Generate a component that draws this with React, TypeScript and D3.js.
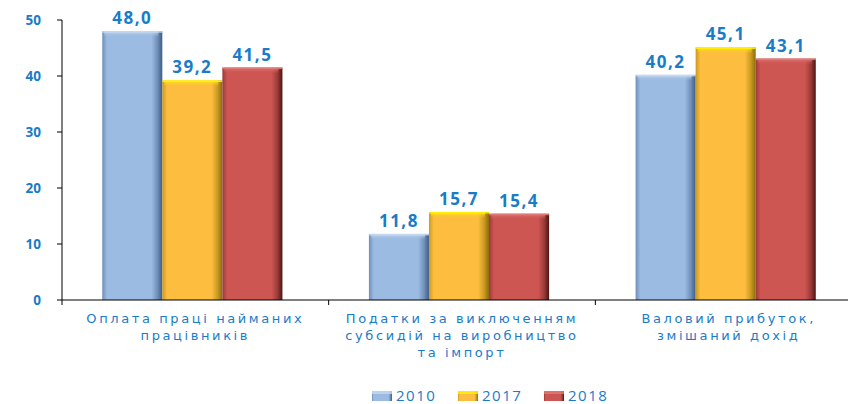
import { useMemo } from "react";
import * as d3 from "d3";

const categories = [
  ["Оплата праці найманих", "працівників"],
  ["Податки за виключенням", "субсидій на виробництво", "та імпорт"],
  ["Валовий прибуток,", "змішаний дохід"],
];
const seriesNames = ["2010", "2017", "2018"];
const values2010 = [48.0, 11.8, 40.2];
const values2017 = [39.2, 15.7, 45.1];
const values2018 = [41.5, 15.4, 43.1];
const yTicks = [0, 10, 20, 30, 40, 50];

const palette = [
  { main: "#9bbbe2", light: "#c6d9f0", dark: "#3e5c86", edge: "#6f8fb8" },
  { main: "#fdbd3f", light: "#fff200", dark: "#8a6a10", edge: "#c99a20" },
  { main: "#cd5552", light: "#e07a77", dark: "#4a1614", edge: "#9a3a38" },
];

const textColor = "#1a7cc9";
const font = "'Open Sans', 'DejaVu Sans', sans-serif";

export default function App() {
  const width = 848;
  const height = 404;
  const margin = { top: 20, left: 62, bottom: 104 };
  const plotRight = 862;
  const innerHeight = height - margin.top - margin.bottom;

  const series = [values2010, values2017, values2018];

  const { x, xs, y } = useMemo(() => {
    const x = d3
      .scaleBand<number>()
      .domain(categories.map((_, i) => i))
      .range([margin.left, plotRight])
      .paddingInner(0)
      .paddingOuter(0);
    const xs = d3
      .scaleBand<number>()
      .domain(seriesNames.map((_, i) => i))
      .range([-3, x.bandwidth() - 3])
      .paddingOuter(0.72)
      .paddingInner(0);
    const y = d3
      .scaleLinear()
      .domain([0, 50])
      .range([margin.top + innerHeight, margin.top]);
    return { x, xs, y };
  }, []);

  return (
    <svg width={width} height={height} style={{ position: "absolute", left: 0, top: 0 }}>
      <defs>
        {palette.map((c, i) => (
          <g key={i}>
            <linearGradient id={`side${i}`} x1="0" x2="1" y1="0" y2="0">
              <stop offset="0%" stopColor={c.edge} />
              <stop offset="8%" stopColor={c.main} />
              <stop offset="82%" stopColor={c.main} />
              <stop offset="92%" stopColor={c.edge} />
              <stop offset="100%" stopColor={c.dark} />
            </linearGradient>
            <linearGradient id={`top${i}`} x1="0" x2="0" y1="0" y2="1">
              <stop offset="0%" stopColor={c.light} />
              <stop offset="100%" stopColor={c.main} stopOpacity={0} />
            </linearGradient>
          </g>
        ))}
      </defs>

      {/* bars */}
      {categories.map((_, ci) => (
        <g key={ci} transform={`translate(${x(ci)},0)`}>
          {series.map((vals, si) => {
            const bx = xs(si)!;
            const bw = xs.bandwidth();
            const by = y(vals[ci]);
            const bh = y(0) - by;
            return (
              <g key={si}>
                <rect x={bx} y={by} width={bw} height={bh} fill={`url(#side${si})`} />
                <rect x={bx + 2} y={by} width={bw - 6} height={6} fill={`url(#top${si})`} />
                <rect x={bx} y={by} width={bw} height={1.5} fill={palette[si].light} opacity={0.9} />
                <text
                  x={bx + bw / 2}
                  y={by - 7}
                  textAnchor="middle"
                  fill={textColor}
                  fontFamily={font}
                  fontSize={17}
                  fontWeight="bold"
                  letterSpacing={1.5}
                >
                  {vals[ci].toFixed(1).replace(".", ",")}
                </text>
              </g>
            );
          })}
        </g>
      ))}

      {/* y axis */}
      <line x1={margin.left} x2={margin.left} y1={y(50)} y2={y(0)} stroke="#000" strokeWidth={1} />
      {yTicks.map((t) => (
        <g key={t}>
          <line x1={margin.left - 5} x2={margin.left} y1={y(t)} y2={y(t)} stroke="#000" />
          <text
            x={margin.left - 21}
            y={y(t)}
            dy="0.35em"
            textAnchor="end"
            fill={textColor}
            fontFamily={font}
            fontSize={13.5}
            fontWeight="bold"
          >
            {t}
          </text>
        </g>
      ))}

      {/* x axis */}
      <line x1={margin.left} x2={width} y1={y(0)} y2={y(0)} stroke="#000" strokeWidth={1} />
      {categories.map((_, ci) => (
        <line
          key={ci}
          x1={x(ci)!}
          x2={x(ci)!}
          y1={y(0)}
          y2={y(0) + 5}
          stroke="#000"
        />
      ))}
      {categories.map((lines, ci) =>
        lines.map((l, li) => (
          <text
            key={`${ci}-${li}`}
            x={x(ci)! + x.bandwidth() / 2}
            y={y(0) + 23 + li * 17}
            textAnchor="middle"
            fill={textColor}
            fontFamily="'DejaVu Sans', sans-serif"
            fontSize={13}
            letterSpacing={2.6}
          >
            {l}
          </text>
        ))
      )}

      {/* legend */}
      {seriesNames.map((name, si) => {
        const lx = 372 + si * 86;
        return (
          <g key={name}>
            <rect x={lx} y={391} width={20} height={10} fill={`url(#side${si})`} />
            <rect x={lx} y={391} width={20} height={3} fill={palette[si].light} opacity={0.8} />
            <text
              x={lx + 24}
              y={401}
              fill={textColor}
              fontFamily={font}
              fontSize={15}
              letterSpacing={1.5}
            >
              {name}
            </text>
          </g>
        );
      })}
    </svg>
  );
}
